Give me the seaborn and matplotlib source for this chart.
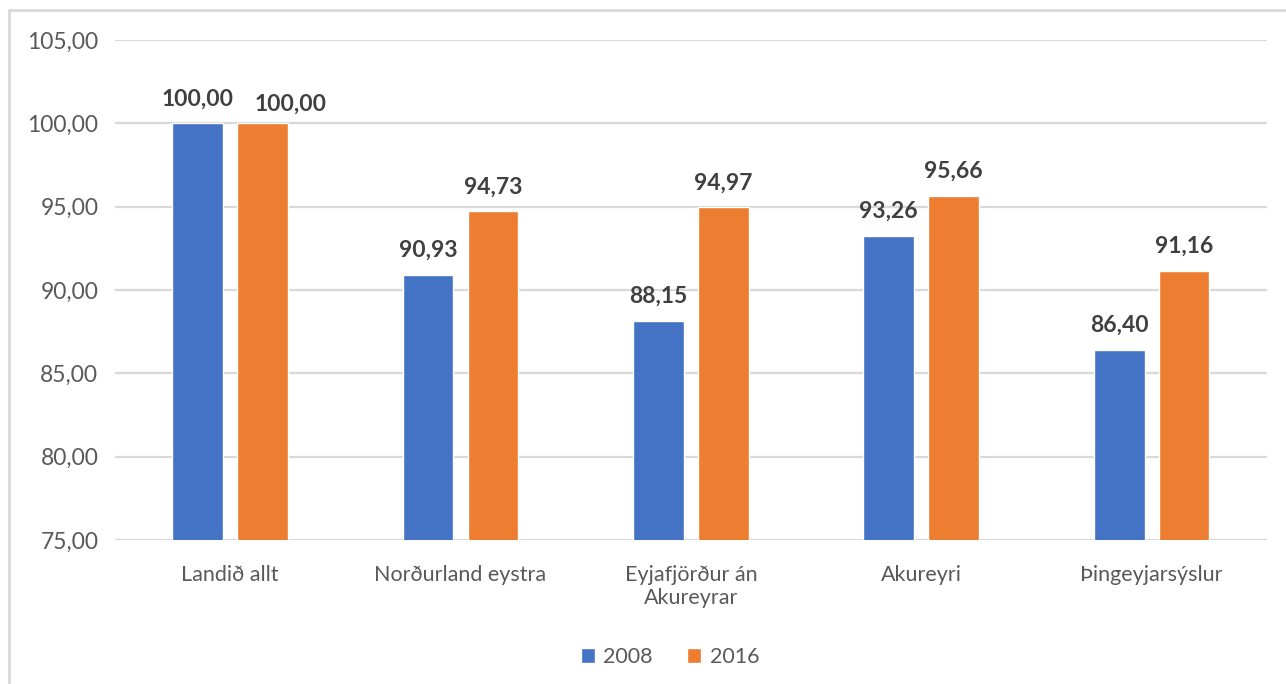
import seaborn as sns
import matplotlib.pyplot as plt
import matplotlib.ticker as mticker
from matplotlib.patches import Rectangle
import pandas as pd

categories = ['Landið allt', 'Norðurland eystra', 'Eyjafjörður án\nAkureyrar',
              'Akureyri', 'Þingeyjarsýslur']
years = ['2008', '2016']
values_2008 = [100.00, 90.93, 88.15, 93.26, 86.40]
values_2016 = [100.00, 94.73, 94.97, 95.66, 91.16]

df = pd.DataFrame({
    'Svæði': categories * 2,
    'Ár': [years[0]] * len(categories) + [years[1]] * len(categories),
    'Gildi': values_2008 + values_2016,
})

sns.set_theme(style='white')
plt.rcParams['font.family'] = ['Lato', 'DejaVu Sans']

fig = plt.figure(figsize=(12.86, 6.84), dpi=100)
ax = fig.add_axes([0.0894, 0.2105, 0.8956, 0.731])

# outer chart frame
fig.patches.append(Rectangle((9 / 1286, -0.1), 1.2, 1 - 10 / 684 + 0.1,
                             transform=fig.transFigure, fill=False,
                             edgecolor='#d9d9d9', linewidth=2))

sns.barplot(data=df, x='Svæði', y='Gildi', hue='Ár',
            palette=['#4472c4', '#ed7d31'], width=0.564, gap=0.216,
            saturation=1, ax=ax, zorder=3)

ax.set_ylim(75, 105)
ax.set_xlim(-0.5, len(categories) - 0.5)
ax.yaxis.set_major_locator(mticker.MultipleLocator(5))
ax.yaxis.set_major_formatter(mticker.FuncFormatter(lambda v, p: f'{v:.2f}'.replace('.', ',')))
ax.grid(axis='y', color='#d9d9d9', linewidth=1.6, zorder=0)
ax.set_axisbelow(True)
for s in ax.spines.values():
    s.set_visible(False)

ax.tick_params(axis='both', length=0, colors='#595959')
ax.tick_params(axis='y', pad=12, labelsize=16.5)
ax.tick_params(axis='x', pad=18, labelsize=15.5)
ax.set_xlabel('')
ax.set_ylabel('')

label_sets = []
for cont in ax.containers:
    label_sets.append(ax.bar_label(cont, labels=[f'{v:.2f}'.replace('.', ',') for v in cont.datavalues],
                                   padding=10, fontsize=16.5, fontweight='bold', color='#404040'))

# nudge the overlapping 100,00 label of 2016 to the right, like the original
t = label_sets[1][0]
t.set_position((t.get_position()[0] + 20, t.get_position()[1] - 4))

leg = ax.legend(loc='upper center', bbox_to_anchor=(0.482, -0.175), ncol=2, frameon=False,
                fontsize=15.5, handlelength=0.65, handleheight=0.65, handletextpad=0.4,
                columnspacing=1.6)
for txt in leg.get_texts():
    txt.set_color('#595959')

fig.savefig('out.png', dpi=100)
